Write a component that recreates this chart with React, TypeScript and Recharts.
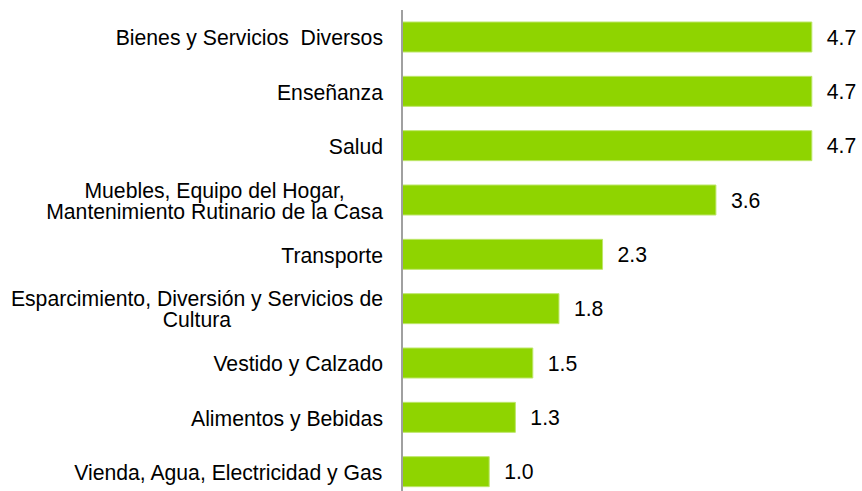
import { BarChart, Bar, XAxis, YAxis, LabelList } from "recharts";

const categories = [
  "Bienes y Servicios  Diversos",
  "Enseñanza",
  "Salud",
  "Muebles, Equipo del Hogar,\nMantenimiento Rutinario de la Casa",
  "Transporte",
  "Esparcimiento, Diversión y Servicios de\nCultura",
  "Vestido y Calzado",
  "Alimentos y Bebidas",
  "Vienda, Agua, Electricidad y Gas",
];

const values = [4.7, 4.7, 4.7, 3.6, 2.3, 1.8, 1.5, 1.3, 1.0];

const data = categories.map((name, i) => ({ name, value: values[i] }));

const FONT = "'Liberation Sans', Arial, sans-serif";
const FS = 21.2;

let ctx: CanvasRenderingContext2D | null = null;
function measure(text: string) {
  if (!ctx) ctx = document.createElement("canvas").getContext("2d");
  if (!ctx) return text.length * 10;
  ctx.font = `${FS}px ${FONT}`;
  return ctx.measureText(text).width;
}

// x arrives already shifted left by tick size + margin (8px)
function CategoryTick(props: any) {
  const { x, y, payload } = props;
  const lines: string[] = String(payload.value).split("\n");
  const blockW = Math.max(...lines.map(measure));
  const right = x - 11;
  const cx = right - blockW / 2;
  const lh = 21;
  const y0 = y - ((lines.length - 1) * lh) / 2;
  return (
    <text
      x={cx}
      y={y0}
      textAnchor="middle"
      dominantBaseline="central"
      fontSize={FS}
      fontFamily={FONT}
      fill="#000"
      style={{ whiteSpace: "pre" }}
    >
      {lines.map((l, i) => (
        <tspan key={i} x={cx} y={y0 + i * lh} style={{ whiteSpace: "pre" }}>
          {l}
        </tspan>
      ))}
    </text>
  );
}

export default function App() {
  return (
    <div style={{ position: "absolute", left: 0, top: 0, width: 862, height: 491, overflow: "hidden", background: "#fff" }}>
      <BarChart
        width={862}
        height={500}
        data={data}
        layout="vertical"
        margin={{ top: 10, right: 24, bottom: 1, left: 0 }}
      >
        <XAxis type="number" domain={[0, 5]} hide />
        <YAxis
          type="category"
          dataKey="name"
          width={402}
          axisLine={{ stroke: "#a0a0a0", strokeWidth: 2 }}
          tickLine={false}
          tick={<CategoryTick />}
          interval={0}
        />
        <Bar
          dataKey="value"
          fill="#8fd400"
          stroke="#bde66a"
          strokeWidth={1}
          barSize={30}
          isAnimationActive={false}
        >
          <LabelList
            dataKey="value"
            position="right"
            offset={15}
            formatter={(v: any) => Number(v).toFixed(1)}
            style={{ fontSize: FS, fontFamily: FONT, fill: "#000" }}
          />
        </Bar>
      </BarChart>
    </div>
  );
}
